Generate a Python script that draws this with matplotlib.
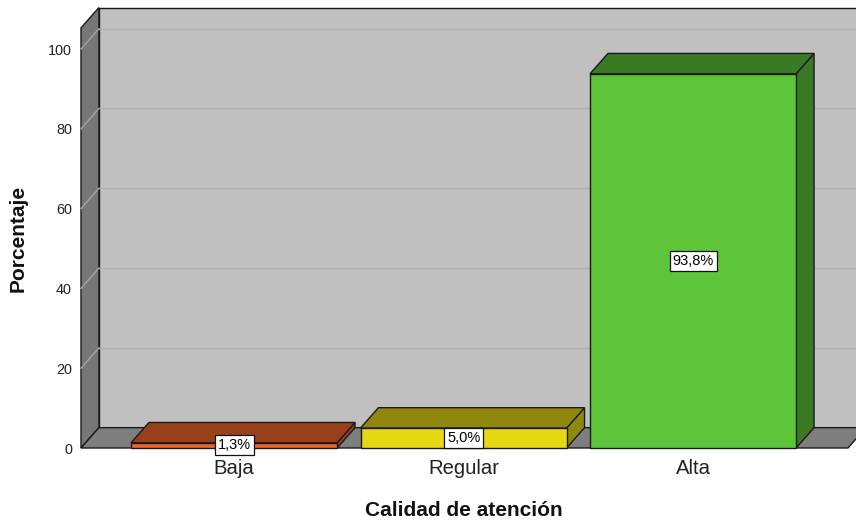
import matplotlib
matplotlib.use('Agg')
import matplotlib.pyplot as plt
from matplotlib.patches import Polygon, Rectangle

# Calidad de atención: frequency shares
categories = ['Baja', 'Regular', 'Alta']
percentages = [1.3, 5.0, 93.8]
value_labels = ['1,3%', '5,0%', '93,8%']
y_ticks = [0, 20, 40, 60, 80, 100]

FRONT_COLORS = ['#f0642c', '#e6d812', '#5ec43a']
SHADE_COLORS = ['#9a3f1c', '#8f880c', '#3b7a25']

plt.rcParams['font.family'] = ['Liberation Sans', 'DejaVu Sans']

fig = plt.figure(figsize=(8.56, 5.27), dpi=100)
ax = fig.add_axes([81 / 856, 79 / 527, 767 / 856, 420.1 / 527])

x0, x1 = -0.667, 2.675
ytop = 105.3
ax.set_xlim(x0, x1)
ax.set_ylim(0, ytop)

# depth of the 3D box, in data units
DX, DY = 0.078, 5.1
EDGE = '#1a1a1a'


def face(pts, fc, z, lw=1.0):
    ax.add_patch(Polygon(pts, closed=True, facecolor=fc, edgecolor=EDGE,
                         linewidth=lw, clip_on=False, zorder=z))


# walls and floor
face([(x0 + DX, DY), (x1 + DX, DY), (x1 + DX, ytop + DY), (x0 + DX, ytop + DY)],
     '#c0c0c0', 1)
face([(x0, 0), (x0 + DX, DY), (x0 + DX, ytop + DY), (x0, ytop)], '#777777', 1)
face([(x0, 0), (x1, 0), (x1 + DX, DY), (x0 + DX, DY)], '#7e7e7e', 1)

# gridlines on back and side walls
for t in y_ticks[1:]:
    ax.plot([x0 + DX, x1 + DX], [t + DY, t + DY], color='#b0b0b0', lw=1.0,
            zorder=1.5, clip_on=False)
    ax.plot([x0, x0 + DX], [t, t + DY], color='#a4a4a4', lw=1.0,
            zorder=1.5, clip_on=False)

# 3D bars
w = 0.898
for i, (v, lab) in enumerate(zip(percentages, value_labels)):
    xl, xr = i - w / 2, i + w / 2
    face([(xr, 0), (xr + DX, DY), (xr + DX, v + DY), (xr, v)], SHADE_COLORS[i], 3)
    face([(xl, v), (xr, v), (xr + DX, v + DY), (xl + DX, v + DY)], SHADE_COLORS[i], 3)
    ax.add_patch(Rectangle((xl, 0), w, v, facecolor=FRONT_COLORS[i],
                           edgecolor=EDGE, linewidth=1.0, clip_on=False, zorder=3))
    ax.text(i, v / 2, lab, ha='center', va='center', fontsize=10.5, zorder=5,
            bbox=dict(boxstyle='square,pad=0.2', fc='white', ec='#111111', lw=0.9))

ax.set_yticks(y_ticks)
ax.set_xticks(range(len(categories)), categories)
ax.tick_params(axis='y', length=0, pad=6.5, labelsize=10.4, labelcolor='#222222')
ax.tick_params(axis='x', length=0, pad=8, labelsize=14.6, labelcolor='#222222')
for s in ax.spines.values():
    s.set_visible(False)
ax.patch.set_visible(False)

fig.text(464 / 856, 1 - 511 / 527, 'Calidad de atención', ha='center', va='center',
         fontsize=15, fontweight='bold', color='#111111')
fig.text(18 / 856, 1 - 238 / 527, 'Porcentaje', ha='center', va='center',
         rotation=90, fontsize=15, fontweight='bold', color='#111111')

fig.savefig('out.png', dpi=100)
